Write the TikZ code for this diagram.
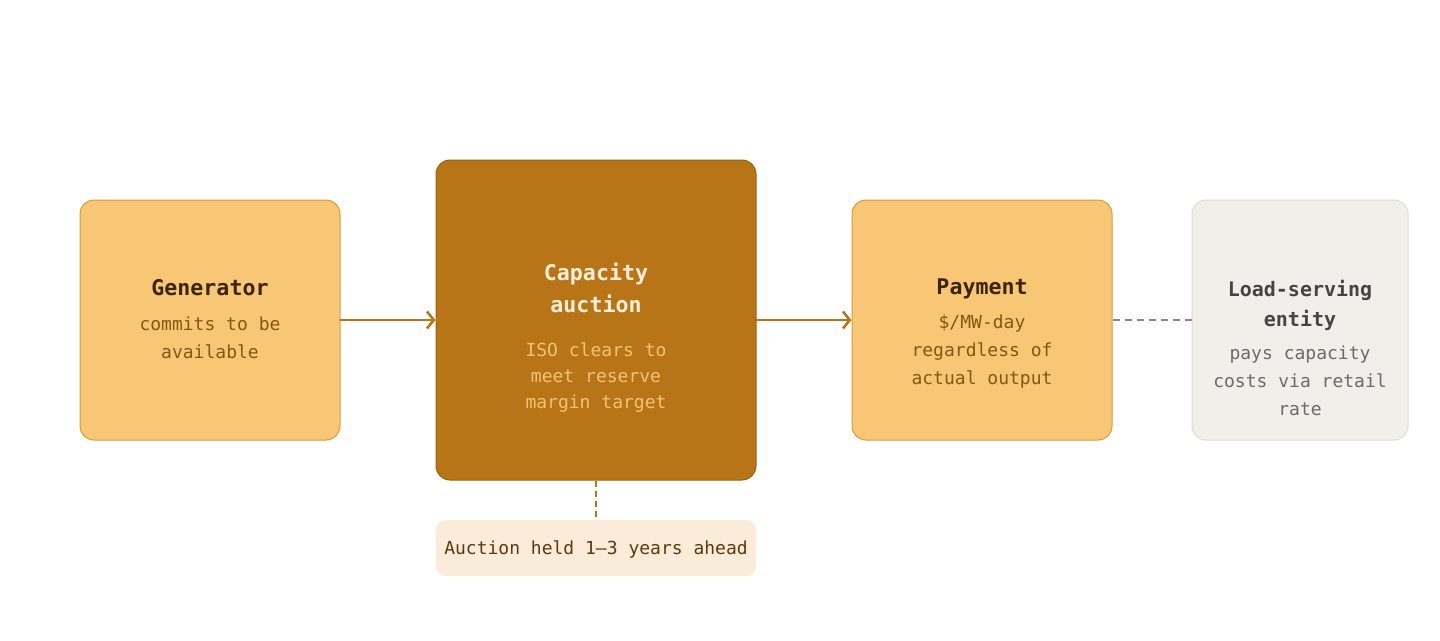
\documentclass[tikz,border=0pt]{standalone}
\usepackage{fontspec}
\setmonofont{DejaVu Sans Mono}
\usetikzlibrary{arrows.meta,positioning}
\definecolor{peach}{HTML}{F8C776}
\definecolor{peachline}{HTML}{D99A3C}
\definecolor{rust}{HTML}{B87517}
\definecolor{rustline}{HTML}{9C6212}
\definecolor{darkbrown}{HTML}{3B2409}
\definecolor{midbrown}{HTML}{8B5412}
\definecolor{cream}{HTML}{FDEFD8}
\definecolor{lightgold}{HTML}{F3C373}
\definecolor{stone}{HTML}{F0EFEA}
\definecolor{stoneline}{HTML}{DEDCD5}
\definecolor{notefill}{HTML}{FAECD9}
\definecolor{notetext}{HTML}{5C3A0F}
\begin{document}
\begin{tikzpicture}[x=1pt, y=-1pt, line join=round, line cap=round,
	box/.style={draw, rounded corners=14pt, line width=1pt, inner sep=0pt},
	ttl/.style={font=\ttfamily\bfseries\fontsize{21.6}{32}\selectfont, align=center, inner sep=0pt},
	txt/.style={font=\ttfamily\fontsize{18}{28}\selectfont, align=center, inner sep=0pt},
	flow/.style={rust, line width=2.5pt, -{Straight Barb[length=7pt,width=17pt,line width=2.5pt]}}]
	\useasboundingbox[fill=white] (0,0) rectangle (1440,640);
	% boxes
	\node[box, fill=peach, draw=peachline, minimum width=260pt, minimum height=240pt] (gen) at (210,320) {};
	\node[box, fill=rust, draw=rustline, minimum width=320pt, minimum height=320pt] (auc) at (596,320) {};
	\node[box, fill=peach, draw=peachline, minimum width=260pt, minimum height=240pt] (pay) at (982,320) {};
	\node[box, fill=stone, draw=stoneline, minimum width=216pt, minimum height=240pt] (lse) at (1300,320) {};
	\node[fill=notefill, rounded corners=10pt, minimum width=320pt, minimum height=56pt, inner sep=0pt, text depth=0pt,
		font=\ttfamily\fontsize{18}{28}\selectfont, text=notetext] (note) at (596,548) {Auction held 1–3 years ahead};
	% texts
	\node[ttl, text=darkbrown] (gen-t) at (210,288) {Generator};
	\node[txt, text=midbrown] (gen-b) at (210,338) {commits to be\\available};
	\node[ttl, text=cream] (auc-t) at (596,288) {Capacity\\auction};
	\node[txt, text=lightgold, font=\ttfamily\fontsize{18}{26}\selectfont] (auc-b) at (596,378) {ISO clears to\\meet reserve\\margin target};
	\node[ttl, text=darkbrown] (pay-t) at (982,289) {Payment};
	\node[txt, text=midbrown] (pay-b) at (982,352) {\$/MW-day\\regardless of\\actual output};
	\node[ttl, text=black!73, font=\ttfamily\bfseries\fontsize{20}{30}\selectfont] (lse-t) at (1300,305) {Load-serving\\entity};
	\node[txt, text=black!58] (lse-b) at (1300,381) {pays capacity\\costs via retail\\rate};
	% connectors
	\draw[flow] (gen.east) -- (auc.west);
	\draw[flow] (auc.east) -- (pay.west);
	\draw[black!47, line width=2pt, dash pattern=on 7pt off 5pt, line cap=butt] (pay.east) -- (lse.west);
	\draw[rust, line width=2pt, dash pattern=on 6pt off 4pt, line cap=butt] (auc.south) -- (note.north);
\end{tikzpicture}
\end{document}
